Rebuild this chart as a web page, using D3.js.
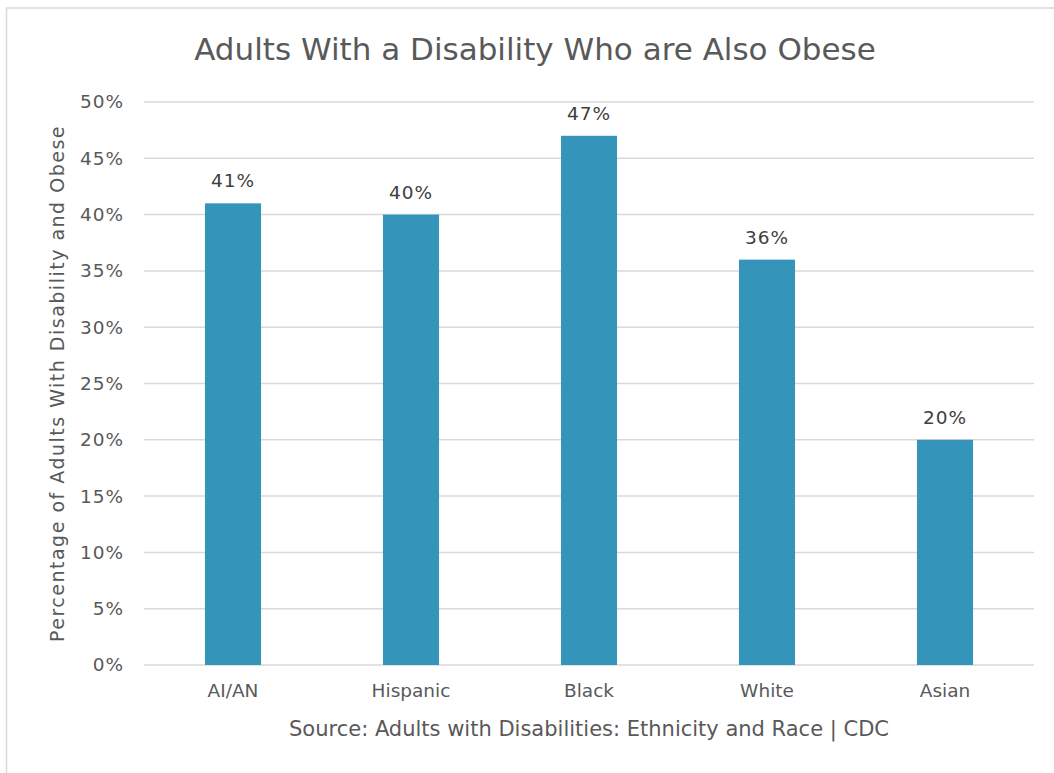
<!DOCTYPE html>
<html>
<head>
<meta charset="utf-8">
<script src="https://cdn.jsdelivr.net/npm/d3@7"></script>
<style>
  html, body { margin: 0; padding: 0; background: #fff; }
  svg { display: block; }
  text { font-family: "DejaVu Sans", sans-serif; }
</style>
</head>
<body>
<div id="chart"></div>
<script>
const categories = ["AI/AN", "Hispanic", "Black", "White", "Asian"];
const values = [41, 40, 47, 36, 20];
const yTicks = [0, 5, 10, 15, 20, 25, 30, 35, 40, 45, 50];
const titleText = "Adults With a Disability Who are Also Obese";
const yAxisTitle = "Percentage of Adults With Disability and Obese";
const sourceText = "Source: Adults with Disabilities: Ethnicity and Race | CDC";

const W = 1054, H = 773;
const FONT = "'DejaVu Sans', sans-serif";

const svg = d3.select("#chart").append("svg")
  .attr("width", W).attr("height", H);

svg.append("rect").attr("x", 0).attr("y", 0).attr("width", W).attr("height", H).attr("fill", "#fff");
// outer border (only top & left visible)
svg.append("rect").attr("x", 6.5).attr("y", 8).attr("width", 1200).attr("height", 900)
  .attr("fill", "none").attr("stroke", "#d9d9d9").attr("stroke-width", 1.5);

const x = d3.scaleBand().domain(categories).range([144, 1034]).paddingInner(0.685).paddingOuter(0.3425);
const y = d3.scaleLinear().domain([0, 50]).range([665, 102]);

// gridlines
svg.append("g").selectAll("line").data(yTicks).join("line")
  .attr("x1", 144).attr("x2", 1034)
  .attr("y1", d => y(d)).attr("y2", d => y(d))
  .attr("stroke", "#d9d9d9").attr("stroke-width", 1.5);

// y tick labels
const yAxis = d3.axisLeft(y).tickValues(yTicks).tickFormat(d => d + "%").tickSize(0).tickPadding(20);
const yg = svg.append("g").attr("transform", "translate(144,0)").call(yAxis);
yg.select(".domain").remove();
yg.selectAll("text").attr("fill", "#595959").style("font-size", "18.5px").style("font-family", FONT)
  .style("letter-spacing", "1px");

// bars
svg.append("g").selectAll("rect").data(values).join("rect")
  .attr("x", (d, i) => x(categories[i]))
  .attr("width", x.bandwidth())
  .attr("y", d => y(d))
  .attr("height", d => y(0) - y(d))
  .attr("fill", "#3494ba");

// data labels
svg.append("g").selectAll("text").data(values).join("text")
  .attr("x", (d, i) => x(categories[i]) + x.bandwidth() / 2)
  .attr("y", d => y(d) - 16)
  .attr("text-anchor", "middle")
  .attr("fill", "#404040")
  .style("font-size", "18.5px")
  .style("letter-spacing", "1px")
  .text(d => d + "%");

// x axis labels
const xAxis = d3.axisBottom(x).tickSize(0).tickPadding(19);
const xg = svg.append("g").attr("transform", "translate(0,665)").call(xAxis);
xg.select(".domain").remove();
xg.selectAll("text").attr("fill", "#595959").style("font-size", "18.5px").style("font-family", FONT);

// title
svg.append("text").attr("x", 535).attr("y", 60).attr("text-anchor", "middle")
  .attr("fill", "#595959").style("font-size", "31px").text(titleText);

// y axis title
svg.append("text").attr("transform", "translate(64,383.5) rotate(-90)")
  .attr("text-anchor", "middle").attr("fill", "#595959").style("font-size", "19px")
  .style("letter-spacing", "1.5px").text(yAxisTitle);

// source
svg.append("text").attr("x", 589).attr("y", 736).attr("text-anchor", "middle")
  .attr("fill", "#595959").style("font-size", "21px").text(sourceText);
</script>
</body>
</html>
